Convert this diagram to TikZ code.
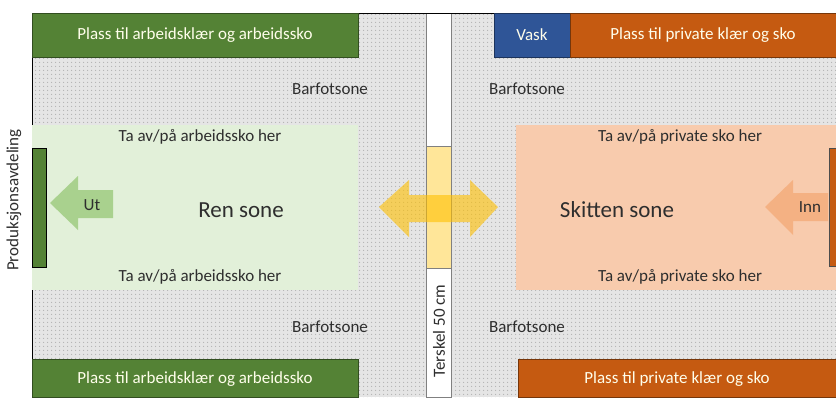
\documentclass[tikz,border=0pt]{standalone}
\usepackage{fontspec}
\setmainfont{Carlito}
\usetikzlibrary{patterns.meta}

\definecolor{mrkgronn}{HTML}{548235}
\definecolor{lysgronn}{HTML}{E2F0D9}
\definecolor{pilgronn}{HTML}{A9D18E}
\definecolor{mrkoransje}{HTML}{C55A11}
\definecolor{laks}{HTML}{F8CBAD}
\definecolor{piloransje}{HTML}{F4B183}
\definecolor{vaskbla}{HTML}{2F5597}
\definecolor{tersklgul}{HTML}{FFE699}
\definecolor{pilgul}{HTML}{FFC000}
\definecolor{tekstgra}{HTML}{2E2E2E}

\tikzset{
  lbl/.style={text=tekstgra, font=\fontsize{17}{20}\selectfont, inner sep=0pt},
  stortekst/.style={text=tekstgra, font=\fontsize{23}{27}\selectfont, inner sep=0pt},
  boksetekst/.style={text=white!92!yellow, font=\fontsize{17}{20}\selectfont, inner sep=0pt}
}

\begin{document}
\begin{tikzpicture}[x=1pt,y=-1pt]
        \useasboundingbox (0,0) rectangle (836,397);

        % Barfotsone (grå med prikker)
        \fill[gray!20] (32,13) rectangle (836,397);
        \fill[pattern={Dots[distance=4pt, radius=0.8pt]}, pattern color=gray!60] (32,13) rectangle (836,397);

        % Terskel
        \filldraw[fill=white, draw=gray] (426,13) rectangle (451,397);
        \filldraw[fill=tersklgul, draw=gray] (426,146) rectangle (451,268);

        % Kant
        \draw[thick] (32,397) -- (32,13) -- (836,13);

        % Soner
        \fill[lysgronn] (32,125) rectangle (358,290);
        \fill[laks] (516,125) rectangle (836,290);

        % Plass til klaer
        \filldraw[fill=mrkgronn, draw=mrkgronn!60!black] (32,13) rectangle (358,57);
        \filldraw[fill=mrkgronn, draw=mrkgronn!60!black] (32,359) rectangle (358,397);
        \filldraw[fill=vaskbla, draw=vaskbla!60!black] (494,13) rectangle (570,57);
        \filldraw[fill=mrkoransje, draw=mrkoransje!60!black] (570,13) rectangle (836,57);
        \filldraw[fill=mrkoransje, draw=mrkoransje!60!black] (518,359) rectangle (836,397);

        % Dorer
        \filldraw[fill=mrkgronn, draw=black] (32,148) rectangle (46,267);
        \filldraw[fill=mrkoransje, draw=black!70] (829,148) rectangle (837,266);

        % Piler
        \fill[pilgronn] (50,203) -- (78,176) -- (78,190) -- (113,190) -- (113,218) -- (78,218) -- (78,230) -- cycle;
        \fill[piloransje] (765,207) -- (793,180) -- (793,193) -- (828,193) -- (828,221) -- (793,221) -- (793,235) -- cycle;
        \fill[pilgul, opacity=0.6] (379,207) -- (409,180) -- (409,195) -- (470,195) -- (470,180) -- (498,207)
              -- (470,237) -- (470,222) -- (409,222) -- (409,237) -- cycle;

        % Tekster
        \node[boksetekst] (gronnopp) at (195,35) {Plass til arbeidsklær og arbeidssko};
        \node[boksetekst] (gronnned) at (195,379) {Plass til arbeidsklær og arbeidssko};
        \node[boksetekst] (vask) at (532,35) {Vask};
        \node[boksetekst] (privatopp) at (703,35) {Plass til private klær og sko};
        \node[boksetekst] (privatned) at (677,379) {Plass til private klær og sko};

        \node[lbl] (barfot1) at (330,89) {Barfotsone};
        \node[lbl] (barfot2) at (330,327) {Barfotsone};
        \node[lbl] (barfot3) at (527,89) {Barfotsone};
        \node[lbl] (barfot4) at (527,327) {Barfotsone};

        \node[lbl] (renopp) at (200,137) {Ta av/på arbeidssko her};
        \node[lbl] (renned) at (200,277) {Ta av/på arbeidssko her};
        \node[lbl] (skittopp) at (680,137) {Ta av/på private sko her};
        \node[lbl] (skittned) at (680,277) {Ta av/på private sko her};

        \node[stortekst] (ren) at (241,210) {Ren sone};
        \node[stortekst] (skitten) at (617,210) {Skitten sone};

        \node[lbl] (ut) at (92,205) {Ut};
        \node[lbl] (inn) at (810,207) {Inn};

        \node[lbl, rotate=90] (prod) at (14,200) {Produksjonsavdeling};
        \node[lbl, rotate=90] (terskel) at (439,331) {Terskel 50 cm};
    \end{tikzpicture}
\end{document}
